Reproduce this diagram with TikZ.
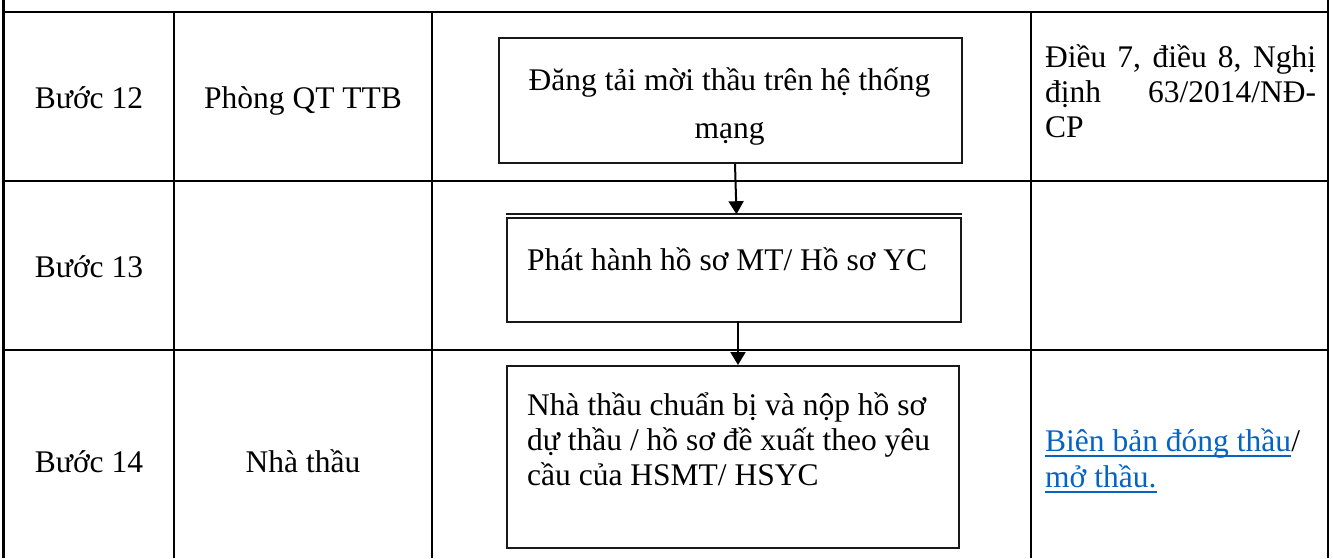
\documentclass[tikz,border=0pt]{standalone}
\usepackage{fontspec}
\setmainfont{Liberation Serif}
\usetikzlibrary{arrows.meta}
\definecolor{linkblue}{RGB}{5,99,193}
\begin{document}
\begin{tikzpicture}[x=1pt,y=-1pt,
  grid/.style={line width=2.6pt,black},
  flowbox/.style={draw=black!90,line width=2pt,rectangle,inner sep=0pt,anchor=north west},
  txt/.style={inner sep=0pt,font=\fontsize{31.5}{35}\selectfont},
  flowarrow/.style={line width=2pt,-{Triangle[length=13pt,width=15pt]}}]
\useasboundingbox (0,0) rectangle (1333,558);
% table grid
\draw[grid] (3.5,0) -- (3.5,558);
\draw[grid] (1328,0) -- (1328,558);
\draw[grid] (174,12) -- (174,558);
\draw[grid] (432,12) -- (432,558);
\draw[grid] (1031,12) -- (1031,558);
\draw[grid] (2.2,12) -- (1329.3,12);
\draw[grid] (2.2,181) -- (1329.3,181);
\draw[grid] (2.2,350) -- (1329.3,350);
% left columns
\node[txt,anchor=base] (s12) at (89,108) {Bước 12};
\node[txt,anchor=base] (u12) at (303,108) {Phòng QT TTB};
\node[txt,anchor=base] (s13) at (89,277) {Bước 13};
\node[txt,anchor=base] (s14) at (89,472) {Bước 14};
\node[txt,anchor=base] (u14) at (303,472) {Nhà thầu};
% flow boxes
\node[flowbox,minimum width=463pt,minimum height=125pt] (b1) at (498,37) {};
\node[txt,anchor=base] (t1a) at (729.5,90) {Đăng tải mời thầu trên hệ thống};
\node[txt,anchor=base] (t1b) at (729.5,138) {mạng};
\node[flowbox,minimum width=454pt,minimum height=104pt] (b2) at (506,217) {};
\draw[line width=1.5pt,black!90] ([yshift=2.8pt]b2.north west) -- ([yshift=2.8pt]b2.north east);
\node[txt,anchor=base west] (t2) at (527,270) {Phát hành hồ sơ MT/ Hồ sơ YC};
\node[flowbox,minimum width=452pt,minimum height=182pt] (b3) at (506,365) {};
\node[txt,anchor=base west] (t3a) at (527,415) {Nhà thầu chuẩn bị và nộp hồ sơ};
\node[txt,anchor=base west] (t3b) at (527,450) {dự thầu / hồ sơ đề xuất theo yêu};
\node[txt,anchor=base west] (t3c) at (527,485) {cầu của HSMT/ HSYC};
% arrows
\draw[flowarrow] ([xshift=4.5pt]b1.south) -- ([xshift=2.5pt,yshift=2.8pt]b2.north);
\draw[flowarrow] ([xshift=4pt,yshift=2pt]b2.south) -- ([xshift=5pt]b3.north);
% right column
\node[txt,anchor=base west] (r1) at (1045,67) {\makebox[271pt][s]{Điều 7, điều 8, Nghị}};
\node[txt,anchor=base west] (r2) at (1045,102) {\makebox[271pt][s]{định 63/2014/NĐ-}};
\node[txt,anchor=base west] (r3) at (1045,137) {CP};
\node[txt,anchor=base west,text=linkblue] (l1) at (1045,451) {Biên bản đóng thầu};
\node[txt,anchor=base west] (l1s) at (l1.base east) {/};
\node[txt,anchor=base west,text=linkblue] (l2) at (1045,487) {mở thầu.};
\draw[linkblue,line width=2pt] ([yshift=-5pt]l1.base west) -- ([yshift=-5pt]l1.base east);
\draw[linkblue,line width=2pt] ([yshift=-5pt]l2.base west) -- ([yshift=-5pt]l2.base east);
\end{tikzpicture}
\end{document}
